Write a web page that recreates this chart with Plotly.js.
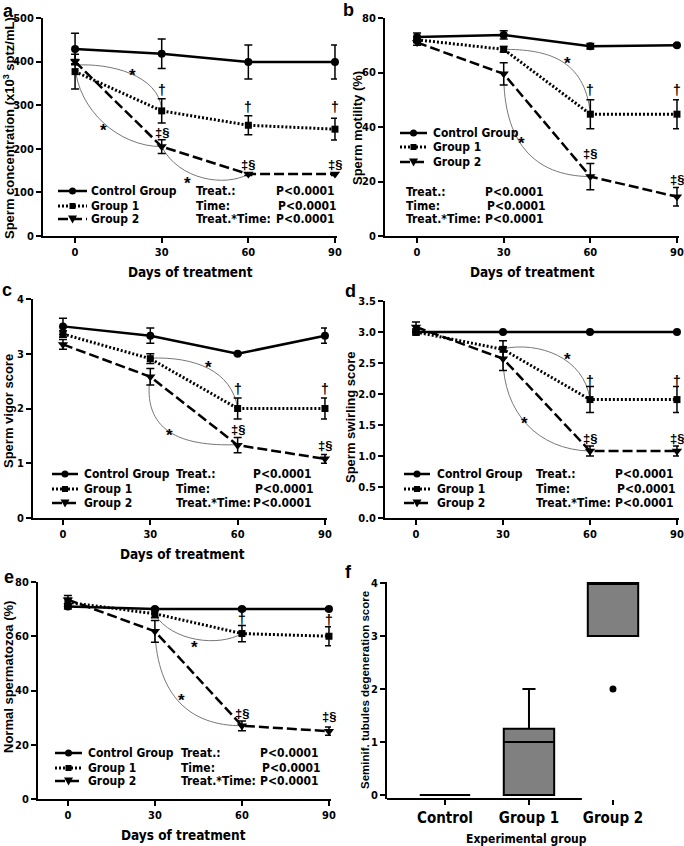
<!DOCTYPE html>
<html><head><meta charset="utf-8">
<script src="https://cdn.plot.ly/plotly-3.0.1.min.js"></script>
<style>html,body{margin:0;padding:0;background:#fff}#chart{width:684px;height:846px}</style>
</head><body><div id="chart"></div>
<script>
// ---------- data ----------
const days = [0, 30, 60, 90];
const dayTicks = ['0', '30', '60', '90'];
const groupNames = ['Control Group', 'Group 1', 'Group 2'];
const pLabels = ['Treat.:', 'Time:', 'Treat.*Time:'];
const pValues = ['P<0.0001', 'P<0.0001', 'P<0.0001'];

// a: sperm concentration
const concControl = [429, 418, 399, 399];
const concControlErr = [36, 34, 39, 39];
const concG1 = [377, 287, 254, 245];
const concG1Err = [40, 28, 22, 25];
const concG2 = [400, 205, 142, 142];
const concG2Err = [5, 16, 3, 3];

// b: sperm motility
const motControl = [73, 73.8, 69.6, 70];
const motControlErr = [1.5, 1.5, 1, 0.5];
const motG1 = [72, 68.5, 44.7, 44.7];
const motG1Err = [1, 1, 5.3, 5.3];
const motG2 = [71, 59.5, 21.8, 14.4];
const motG2Err = [1, 4.1, 4.8, 3.4];

// c: sperm vigor
const vigControl = [3.5, 3.33, 3.0, 3.33];
const vigControlErr = [0.15, 0.14, 0.02, 0.14];
const vigG1 = [3.36, 2.91, 2.0, 2.0];
const vigG1Err = [0.06, 0.09, 0.19, 0.19];
const vigG2 = [3.17, 2.58, 1.33, 1.08];
const vigG2Err = [0.09, 0.15, 0.14, 0.08];

// d: sperm swirling
const swControl = [3.0, 3.0, 3.0, 3.0];
const swControlErr = [0, 0, 0, 0];
const swG1 = [3.0, 2.72, 1.91, 1.91];
const swG1Err = [0.05, 0.14, 0.21, 0.21];
const swG2 = [3.08, 2.57, 1.08, 1.08];
const swG2Err = [0.08, 0.19, 0.08, 0.08];

// e: normal spermatozoa
const normControl = [71, 70, 70, 70];
const normControlErr = [1, 0.5, 0.5, 0.5];
const normG1 = [72.5, 68.3, 61, 60];
const normG1Err = [1.5, 1.5, 3, 3.5];
const normG2 = [73.5, 61.8, 27, 25];
const normG2Err = [1.5, 4, 1.8, 1.5];

// f: seminiferous tubules degeneration score (box plot)
const boxCategories = ['Control', 'Group 1', 'Group 2'];
const boxLower = [0, 0, 3];
const boxQ1 = [0, 0, 3];
const boxMedian = [0, 1, 4];
const boxQ3 = [0, 1.25, 4];
const boxUpper = [0, 2, 4];
const outlierCats = ['Group 2'];
const outlierVals = [2];

// ---------- helpers ----------
const W = 684, H = 846;
const px = p => p / W;
const py = p => 1 - p / H;
const FN = 'Liberation Sans Narrow, Arial Narrow, DejaVu Sans Condensed, Liberation Sans, Arial, sans-serif';
const FR = 'Liberation Sans, Arial, sans-serif';
const BLK = '#000';

const styles = [
  {w: 2.5, dash: 'solid', sym: 'circle', size: 8},
  {w: 3, dash: '2px,2px', sym: 'square', size: 7},
  {w: 2.5, dash: '10px,4px', sym: 'triangle-down', size: 9}
];

const traces = [];
const shapes = [];
const annotations = [];

function lineTraces(xa, ya, vals, errs) {
  [2, 1, 0].forEach(i => {
    traces.push({
      type: 'scatter', mode: 'lines+markers', x: days, y: vals[i],
      xaxis: xa, yaxis: ya, name: groupNames[i], showlegend: false, cliponaxis: false,
      line: {color: BLK, width: styles[i].w, dash: styles[i].dash},
      marker: {symbol: styles[i].sym, size: styles[i].size, color: BLK},
      error_y: {type: 'data', array: errs[i], visible: true, color: BLK, thickness: 1.5, width: 4}
    });
  });
}

const LF = {family: FN, size: 12, weight: 'bold', color: BLK};
function legendBlock(x0, x1, rows, textX, labelX, pX, pRows) {
  rows.forEach((r, i) => {
    shapes.push({type: 'line', xref: 'paper', yref: 'paper', x0: px(x0), x1: px(x1), y0: py(r), y1: py(r),
      line: {color: BLK, width: styles[i].w, dash: styles[i].dash}});
    const cx = px((x0 + x1) / 2), cy = py(r);
    const base = {xref: 'paper', yref: 'paper', xsizemode: 'pixel', ysizemode: 'pixel', xanchor: cx, yanchor: cy,
      fillcolor: BLK, line: {color: BLK, width: 0}};
    if (i === 0) shapes.push(Object.assign({type: 'circle', x0: -3.5, x1: 3.5, y0: -3.5, y1: 3.5}, base));
    if (i === 1) shapes.push(Object.assign({type: 'rect', x0: -3, x1: 3, y0: -3, y1: 3}, base));
    if (i === 2) shapes.push(Object.assign({type: 'path', path: 'M-4.5,3.5 L4.5,3.5 L0,-4.5 Z'}, base));
    annotations.push({xref: 'paper', yref: 'paper', x: px(textX), y: py(r), xanchor: 'left', yanchor: 'middle',
      text: groupNames[i], showarrow: false, font: LF, borderpad: 0});
  });
  (pRows || rows).forEach((r, i) => {
    annotations.push({xref: 'paper', yref: 'paper', x: px(labelX), y: py(r), xanchor: 'left', yanchor: 'middle',
      text: pLabels[i], showarrow: false, font: LF, borderpad: 0});
    annotations.push({xref: 'paper', yref: 'paper', x: px(pX + (i === 1 ? 2 : 0)), y: py(r), xanchor: 'left', yanchor: 'middle',
      text: pValues[i], showarrow: false, font: LF, borderpad: 0});
  });
}

function marks(xa, ya, list) {
  list.forEach(([x, y, t]) => {
    const star = t === '*';
    annotations.push({xref: xa, yref: ya, x: x, y: y, text: t, showarrow: false, yshift: star ? -4 : 0,
      font: {family: FR, size: star ? 17 : (t === '†' ? 14 : 13), weight: 'bold', color: BLK}});
  });
}

function arcs(xa, ya, list) {
  list.forEach(p => {
    shapes.push({type: 'path', xref: xa, yref: ya, layer: 'below',
      path: `M${p[0]},${p[1]} C${p[2]},${p[3]} ${p[4]},${p[5]} ${p[6]},${p[7]}`,
      line: {color: '#777', width: 1}});
  });
}

function label(text, xPix, yPix, size, rot, fam) {
  annotations.push({xref: 'paper', yref: 'paper', x: px(xPix), y: py(yPix), xanchor: 'center', yanchor: 'middle',
    text: text, textangle: rot || 0, showarrow: false, font: {family: fam || FN, size: size, weight: 'bold', color: BLK}});
}

// ---------- panels ----------
lineTraces('x', 'y', [concControl, concG1, concG2], [concControlErr, concG1Err, concG2Err]);
lineTraces('x2', 'y2', [motControl, motG1, motG2], [motControlErr, motG1Err, motG2Err]);
lineTraces('x3', 'y3', [vigControl, vigG1, vigG2], [vigControlErr, vigG1Err, vigG2Err]);
lineTraces('x4', 'y4', [swControl, swG1, swG2], [swControlErr, swG1Err, swG2Err]);
lineTraces('x5', 'y5', [normControl, normG1, normG2], [normControlErr, normG1Err, normG2Err]);

// box plot f
traces.push({
  type: 'box', x: boxCategories, xaxis: 'x6', yaxis: 'y6', name: 'Score', showlegend: false,
  q1: boxQ1, median: boxMedian, q3: boxQ3, lowerfence: boxLower, upperfence: boxUpper,
  fillcolor: '#808080', line: {color: BLK, width: 2}, width: 0.6, whiskerwidth: 0.26, boxpoints: false
});
traces.push({
  type: 'scatter', mode: 'markers', x: outlierCats, y: outlierVals, xaxis: 'x6', yaxis: 'y6',
  showlegend: false, marker: {symbol: 'circle', size: 7, color: BLK}
});

// legends + p tables
legendBlock(58, 87, [191, 206, 219], 90, 195, 275);
legendBlock(400, 427, [133, 147, 162], 432, 405, 484, [192, 206, 219]);
legendBlock(52, 78, [474, 489, 503], 83, 175, 252);
legendBlock(404, 430, [474, 489, 503], 436, 535, 614);
legendBlock(55, 82, [753, 768, 781], 87, 180, 259);

// significance marks
marks('x', 'y', [[20, 377, '*'], [10, 251, '*'], [39, 129, '*'],
  [30, 334, '†'], [60, 297, '†'], [90, 296, '†'],
  [30, 237, '‡§'], [60, 165, '‡§'], [90, 165, '‡§']]);
marks('x2', 'y2', [[52, 64.7, '*'], [36.3, 35.3, '*'],
  [60, 53.7, '†'], [90, 53.7, '†'], [60, 30.1, '‡§'], [90, 20.6, '‡§']]);
marks('x3', 'y3', [[50, 2.83, '*'], [36.7, 1.58, '*'],
  [60, 2.35, '†'], [90, 2.35, '†'], [60, 1.61, '‡§'], [90, 1.33, '‡§']]);
marks('x4', 'y4', [[52.3, 2.62, '*'], [37.5, 1.59, '*'],
  [60, 2.21, '†'], [90, 2.21, '†'], [60, 1.29, '‡§'], [90, 1.29, '‡§']]);
marks('x5', 'y5', [[43.7, 57.3, '*'], [39.1, 37.7, '*'],
  [60, 66.5, '†'], [90, 65.9, '†'], [60, 31.5, '‡§'], [90, 30.3, '‡§']]);

// comparison arcs
arcs('x', 'y', [[0, 392, 12, 397, 29, 370, 30, 290], [0, 390, 1, 290, 15, 205, 30, 205], [30, 205, 36, 128, 52, 112, 60, 142]]);
arcs('x2', 'y2', [[30, 68.5, 45, 68.5, 58, 65, 60, 45], [30, 59.5, 30, 35, 40, 22, 60, 21.8]]);
arcs('x3', 'y3', [[30, 2.92, 45, 2.95, 58, 2.7, 60, 2.0], [30, 2.6, 27, 1.6, 40, 1.3, 60, 1.34]]);
arcs('x4', 'y4', [[30, 2.73, 42, 2.85, 58, 2.6, 60, 1.91], [30, 2.58, 30, 1.7, 42, 1.1, 60, 1.08]]);
arcs('x5', 'y5', [[30, 68, 36, 58, 52, 56, 60, 61], [30, 61.5, 31, 38, 42, 27, 60, 27]]);

// x axis line for f (shorter than plot area)
shapes.push({type: 'line', xref: 'x6', yref: 'y6 domain', x0: -0.69, x1: 1.63, y0: 0, y1: 0, line: {color: BLK, width: 2}});

// panel letters
label('a', 8, 11, 18, 0, FR);
label('b', 349, 10, 18, 0, FR);
label('c', 7, 290, 18, 0, FR);
label('d', 350, 291, 18, 0, FR);
label('e', 9, 577, 18, 0, FR);
label('f', 349, 572, 18, 0, FR);

// axis titles
label('Sperm concentration (x10<sup>3</sup> sptz/mL)', 9, 128, 13, -90, FR);
label('Sperm motility (%)', 357, 128, 13, -90, FR);
label('Sperm vigor score', 8, 411, 13, -90, FR);
label('Sperm swirling score', 350, 417, 13, -90, FR);
label('Normal spermatozoa (%)', 8, 677, 13, -90, FR);
label('Seminif. tubules degeneration score', 365, 690, 11.5, -90, FR);
label('Days of treatment', 190, 272, 13.5);
label('Days of treatment', 532, 272, 13.5);
label('Days of treatment', 182, 554, 13.5);
label('Days of treatment', 183, 835, 13.5);
label('Experimental group', 526, 839, 12);

// ---------- axes ----------
const tickfont = {family: FN, size: 11, weight: 'bold', color: BLK};
function ax(extra) {
  return Object.assign({showline: true, linecolor: BLK, linewidth: 2, ticks: 'outside', ticklen: 5, tickwidth: 2,
    tickcolor: BLK, showgrid: false, zeroline: false, tickfont: tickfont, fixedrange: true}, extra);
}
function xDays(l, r, lo, hi, anchor) {
  return ax({domain: [px(l), px(r)], range: [lo, hi], tickvals: days, ticktext: dayTicks, anchor: anchor});
}
function yDom(t, b) { return [py(b), py(t)]; }

const layout = {
  width: W, height: H, margin: {l: 0, r: 0, t: 0, b: 0}, paper_bgcolor: '#fff', plot_bgcolor: '#fff',
  showlegend: false, font: {family: FN, color: BLK},
  xaxis: xDays(43, 337, -11.1, 90.7, 'y'),
  yaxis: ax({domain: yDom(18, 236), range: [0, 500], dtick: 100, anchor: 'x'}),
  xaxis2: xDays(385, 679, -11.1, 90.7, 'y2'),
  yaxis2: ax({domain: yDom(18, 236), range: [0, 80], dtick: 20, anchor: 'x2'}),
  xaxis3: xDays(33, 327, -10.3, 90.7, 'y3'),
  yaxis3: ax({domain: yDom(299, 518), range: [0, 4], dtick: 1, anchor: 'x3'}),
  xaxis4: xDays(385, 679, -10.7, 90.7, 'y4'),
  yaxis4: ax({domain: yDom(301, 518), range: [0, 3.5], dtick: 0.5, tickformat: '.1f', anchor: 'x4'}),
  xaxis5: xDays(38, 331, -10.3, 90.7, 'y5'),
  yaxis5: ax({domain: yDom(582, 799), range: [0, 80], dtick: 20, anchor: 'x5'}),
  xaxis6: ax({domain: [px(387), px(655)], type: 'category', categoryorder: 'array', categoryarray: boxCategories,
    range: [-0.69, 2.5], showline: false, anchor: 'y6', tickfont: {family: FN, size: 15, weight: 'bold', color: BLK}}),
  yaxis6: ax({domain: yDom(582, 799), range: [-0.075, 4.02], dtick: 1, anchor: 'x6'}),
  shapes: shapes,
  annotations: annotations
};

Plotly.newPlot('chart', traces, layout, {staticPlot: true, displayModeBar: false});
</script>
</body></html>
